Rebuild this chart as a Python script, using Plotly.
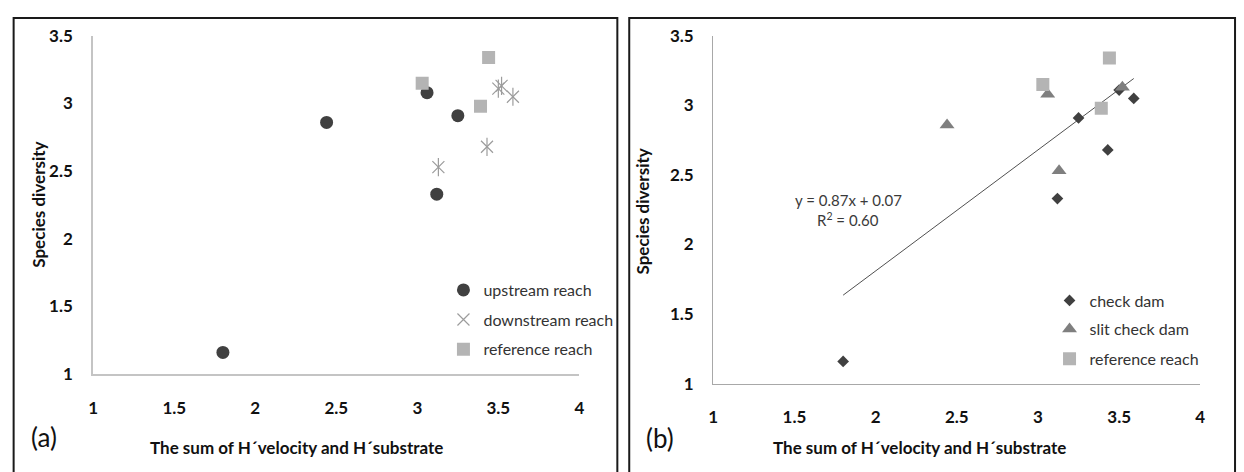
import plotly.graph_objects as go

# Panel (a): species diversity by reach position
upstream_x = [1.80, 2.44, 3.06, 3.25, 3.12]
upstream_y = [1.16, 2.86, 3.08, 2.91, 2.33]
downstream_x = [3.13, 3.43, 3.50, 3.52, 3.59]
downstream_y = [2.53, 2.68, 3.11, 3.13, 3.05]
reference_x = [3.03, 3.44, 3.39]
reference_y = [3.15, 3.34, 2.98]

# Panel (b): species diversity by dam type
checkdam_x = [1.80, 3.25, 3.12, 3.43, 3.50, 3.59]
checkdam_y = [1.16, 2.91, 2.33, 2.68, 3.11, 3.05]
slit_x = [2.44, 3.06, 3.13, 3.52]
slit_y = [2.86, 3.08, 2.53, 3.13]

# Linear trend across all sites in panel (b)
slope, intercept, r2 = 0.87, 0.07, 0.60

x_ticks = [1, 1.5, 2, 2.5, 3, 3.5, 4]
y_ticks = [1, 1.5, 2, 2.5, 3, 3.5]

W, H = 1244, 472
FONT = "Lato"
DARK = "#404040"
ASTER = "#9c9c9c"


def px(x):
    return x / W


def py(y):
    return 1 - y / H


fig = go.Figure()

# ---- panel (a)
fig.add_trace(go.Scatter(
    x=upstream_x, y=upstream_y, mode="markers", name="upstream reach",
    marker=dict(symbol="circle", size=13, color=DARK),
    xaxis="x", yaxis="y", legend="legend"))
fig.add_trace(go.Scatter(
    x=downstream_x, y=downstream_y, mode="markers", name="downstream reach",
    marker=dict(symbol="x-thin-open", size=12, color=ASTER,
                line=dict(color=ASTER, width=1.2)),
    xaxis="x", yaxis="y", legend="legend2"))
fig.add_trace(go.Scatter(
    x=downstream_x, y=downstream_y, mode="markers", showlegend=False,
    marker=dict(symbol="line-ns-open", size=13, color=ASTER,
                line=dict(color=ASTER, width=1.2)),
    xaxis="x", yaxis="y"))
fig.add_trace(go.Scatter(
    x=reference_x, y=reference_y, mode="markers", name="reference reach",
    marker=dict(symbol="square", size=13, color="#b4b4b4"),
    xaxis="x", yaxis="y", legend="legend3"))

# ---- panel (b)
all_x = checkdam_x + slit_x + reference_x
fit_x = [min(all_x), max(all_x)]
fit_y = [slope * v + intercept for v in fit_x]
fig.add_trace(go.Scatter(
    x=fit_x, y=fit_y, mode="lines", showlegend=False,
    line=dict(color="#505050", width=1),
    xaxis="x2", yaxis="y2"))
fig.add_trace(go.Scatter(
    x=checkdam_x, y=checkdam_y, mode="markers", name="check dam",
    marker=dict(symbol="diamond", size=9, color=DARK),
    xaxis="x2", yaxis="y2", legend="legend4"))
fig.add_trace(go.Scatter(
    x=slit_x, y=slit_y, mode="markers", name="slit check dam",
    marker=dict(symbol="triangle-up", size=13, color="#7f7f7f"),
    xaxis="x2", yaxis="y2", legend="legend5"))
fig.add_trace(go.Scatter(
    x=reference_x, y=reference_y, mode="markers", name="reference reach",
    marker=dict(symbol="square", size=13, color="#b4b4b4"),
    xaxis="x2", yaxis="y2", legend="legend6"))

tick_font = dict(family=FONT, size=17, color="#111", weight="bold")
axis_common = dict(
    range=[1, 4], tickvals=x_ticks, ticktext=[f"{t:g}" for t in x_ticks],
    showgrid=False, zeroline=False, showline=True, ticks="",
    tickfont=tick_font,
)
yaxis_common = dict(
    range=[1, 3.5], tickvals=y_ticks, ticktext=[f"{t:g}" for t in y_ticks],
    showgrid=False, zeroline=False, showline=True, ticks="",
    tickfont=tick_font,
)

layout = dict(
    width=W, height=H, margin=dict(l=0, r=0, t=0, b=0),
    paper_bgcolor="white", plot_bgcolor="white",
    font=dict(family=FONT, color="#222"),
    xaxis=dict(axis_common, domain=[px(89), px(579)], anchor="y",
               linecolor="#c4c4c4", linewidth=2, ticklabelstandoff=18),
    yaxis=dict(yaxis_common, domain=[py(380), py(26)], anchor="x",
               linecolor="#c4c4c4", linewidth=2, ticklabelstandoff=15),
    xaxis2=dict(axis_common, domain=[px(714), px(1205)], anchor="y2",
                linecolor="#a8a8a8", linewidth=1.3, ticklabelstandoff=18),
    yaxis2=dict(yaxis_common, domain=[py(390), py(26)], anchor="x2",
                linecolor="#a8a8a8", linewidth=1.3, ticklabelstandoff=15),
    showlegend=True,
)

legend_font = dict(family=FONT, size=16, color="#333")


def legend_at(mx, my):
    return dict(x=px(mx - 29), y=py(my), xanchor="left", yanchor="middle",
                bgcolor="rgba(0,0,0,0)", borderwidth=0, font=legend_font,
                itemclick=False, itemdoubleclick=False)


layout["legend"] = legend_at(471, 292)
layout["legend2"] = legend_at(471, 323)
layout["legend3"] = legend_at(471, 354)
layout["legend4"] = legend_at(1082, 303)
layout["legend5"] = legend_at(1082, 333)
layout["legend6"] = legend_at(1082, 364)

fig.update_layout(**layout)

title_font = dict(family=FONT, size=17, color="#111", weight="bold")
annotations = [
    dict(x=px(34), y=py(203), text="Species diversity", textangle=-90, font=title_font),
    dict(x=px(643), y=py(210), text="Species diversity", textangle=-90, font=title_font),
    dict(x=px(294), y=py(457), text="The sum of H\u00b4velocity and H\u00b4substrate",
         font=title_font),
    dict(x=px(922), y=py(457), text="The sum of H\u00b4velocity and H\u00b4substrate",
         font=title_font),
    dict(x=px(39), y=py(446), text="(a)", font=dict(family=FONT, size=26, color="#111")),
    dict(x=px(660), y=py(447), text="(b)", font=dict(family=FONT, size=26, color="#111")),
    dict(x=px(850), y=py(198), text=f"y = {slope:.2f}x + {intercept:.2f}",
         font=dict(family=FONT, size=15, color="#3a3a3a")),
    dict(x=px(850), y=py(218), text=f"R<sup>2</sup> = {r2:.2f}",
         font=dict(family=FONT, size=15, color="#3a3a3a")),
]
for a in annotations:
    a.update(xref="paper", yref="paper", showarrow=False,
             xanchor="center", yanchor="middle")
fig.update_layout(annotations=annotations)

# Panel frames
for x0, x1 in [(8.7, 617.3), (629.3, 1240)]:
    fig.add_shape(type="rect", xref="paper", yref="paper",
                  x0=px(x0), x1=px(x1), y0=-0.05, y1=py(7.3),
                  line=dict(color="#1a1a1a", width=2), layer="above")

fig.write_html("out.html")
